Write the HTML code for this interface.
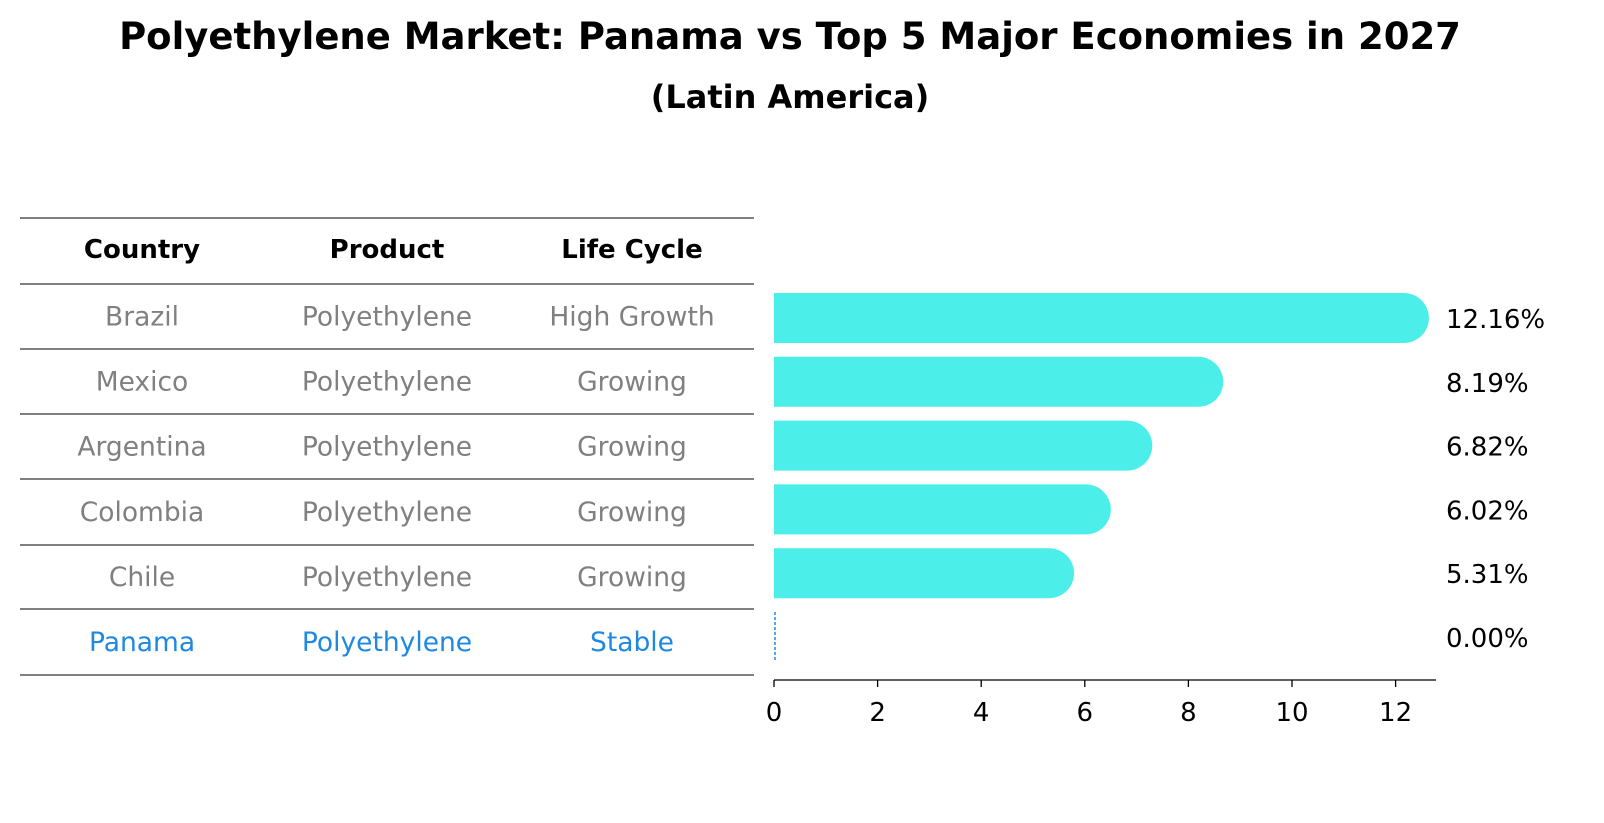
<!DOCTYPE html>
<html><head><meta charset="utf-8"><style>
html,body{margin:0;padding:0;background:#fff;overflow:hidden;width:1604px;height:823px}
svg{display:block}
</style></head><body>
<svg width="1604" height="823" xmlns="http://www.w3.org/2000/svg" font-family="DejaVu Sans, Liberation Sans, sans-serif">
<text x="790" y="49" text-anchor="middle" font-size="37" font-weight="bold">Polyethylene Market: Panama vs Top 5 Major Economies in 2027</text>
<text x="790" y="108" text-anchor="middle" font-size="32" font-weight="bold">(Latin America)</text>
<g id="table"></g>
<g id="bars"></g>
</svg>
<script>
const countries=["Brazil","Mexico","Argentina","Colombia","Chile","Panama"];
const products=["Polyethylene","Polyethylene","Polyethylene","Polyethylene","Polyethylene","Polyethylene"];
const lifecycles=["High Growth","Growing","Growing","Growing","Growing","Stable"];
const values=[12.16,8.19,6.82,6.02,5.31,0.00];
const ticks=[0,2,4,6,8,10,12];
const NS="http://www.w3.org/2000/svg";
function mk(tag,attrs,parent,text){const e=document.createElementNS(NS,tag);for(const k in attrs)e.setAttribute(k,attrs[k]);if(text!==undefined)e.textContent=text;parent.appendChild(e);return e;}
const tb=document.getElementById('table');
const lineYs=[218,284,349,414,479,545,609,675];
lineYs.forEach(y=>{const l=mk('line',{x1:20,x2:754,y1:y,y2:y,stroke:'#000','stroke-width':1},tb);

});
const colX=[142,387,632];
["Country","Product","Life Cycle"].forEach((h,i)=>{const t=mk('text',{x:colX[i],y:258,'text-anchor':'middle','font-size':26,'font-weight':'bold'},tb,h);

});
countries.forEach((c,r)=>{const y=(lineYs[r+1]+lineYs[r+2])/2+9;const col=c==="Panama"?'#1f88e0':'#808080';
[c,products[r],lifecycles[r]].forEach((v,i)=>{const t=mk('text',{x:colX[i],y:y,'text-anchor':'middle','font-size':26.5,fill:col},tb,v);

});});
const bg=document.getElementById('bars');
const x0=774,sc=51.8;const xs=v=>x0+v*sc;
const yc=i=>318+i*63.8;const h=50,r=25;
values.forEach((v,i)=>{const cy=yc(i);
if(v>0){const xe=xs(v);
const p=mk('path',{d:`M${x0},${cy-h/2} L${xe},${cy-h/2} A${r},${r} 0 0 1 ${xe},${cy+h/2} L${x0},${cy+h/2} Z`,fill:'#4beee9'},bg);

}
else{const l=mk('line',{x1:xs(v)+1,x2:xs(v)+1,y1:cy-h/2,y2:cy+h/2,stroke:'#1f88e0','stroke-width':1.5,'stroke-dasharray':'3,2'},bg);

}
const t=mk('text',{x:1446,y:cy+10,'font-size':26},bg,values[i].toFixed(2)+'%');

});
const ax=mk('line',{x1:x0,x2:1436,y1:680,y2:680,stroke:'#000','stroke-width':1.3},bg);


ticks.forEach(t=>{const tk=mk('line',{x1:xs(t),x2:xs(t),y1:680,y2:687,stroke:'#000','stroke-width':1.3},bg);


const tl=mk('text',{x:xs(t),y:721,'text-anchor':'middle','font-size':26},bg,String(t));

});
</script>
</body></html>
